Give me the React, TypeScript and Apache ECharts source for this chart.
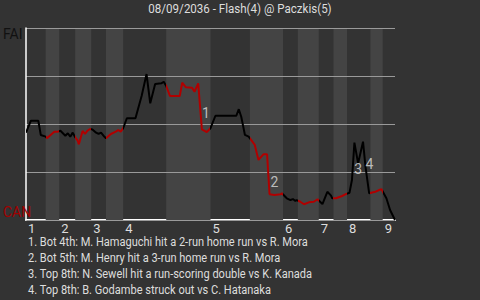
import React, { useEffect, useRef } from "react";
import * as echarts from "echarts";

// Win probability for FAI (100 = FAI wins, 0 = CAN wins), sampled by pitch count.
const pitch = [
  0, 4, 10, 12, 16,
  17, 23, 26,
  28, 32, 34, 36, 38, 40,
  42, 43, 46, 48, 50, 52,
  54, 57, 59, 61, 63, 65,
  66, 69, 73, 75, 77, 79,
  82, 89, 94, 98, 101, 105, 110, 112, 114,
  117, 125, 127, 130, 135, 137, 140, 143, 147, 150,
  154, 171, 173, 175, 178, 181,
  183, 186, 189, 193, 196, 198, 202, 207, 208,
  212, 215, 217, 219, 220,
  223, 226, 230, 234, 237,
  241, 245, 248, 249,
  252, 257, 260,
  263, 265, 267, 270, 274, 276, 279,
  284, 287, 289,
  293, 296, 300,
];
const winProb = [
  45.5, 51.7, 51.7, 44.3, 43.4,
  42.6, 46.0, 46.0,
  46.5, 43.9, 45.2, 43.4, 45.5, 43.1,
  41.3, 39.4, 46.4, 44.8, 46.5, 47.4,
  47.2, 45.5, 44.8, 45.5, 43.9, 42.6,
  43.1, 44.8, 46.0, 46.9, 46.0, 47.8,
  53.0, 53.0, 64.6, 76.0, 60.8, 70.8, 71.2, 72.0, 69.8,
  64.6, 64.6, 71.5, 69.1, 68.9, 66.8, 71.2, 47.2, 45.8, 47.8,
  54.3, 54.3, 57.7, 53.8, 44.3, 43.4,
  41.7, 39.1, 31.3, 34.2, 34.2, 13.4, 13.0, 13.4, 13.9,
  11.3, 10.4, 10.9, 9.9, 10.4,
  9.5, 8.2, 9.2, 9.5, 10.8,
  8.3, 14.7, 12.7, 11.3,
  11.3, 12.5, 13.5,
  14.2, 20.8, 40.3, 29.5, 40.8, 27.8, 13.9,
  14.7, 15.6, 16.0,
  11.3, 5.2, 0,
];

// Pitch count at which each half-inning begins (top 1, bottom 1, top 2, ...).
const halfStarts = [0, 16, 27, 40, 53, 65, 79, 114, 150, 182, 209, 221, 238, 250, 261, 280, 290];
const gameEnd = 300;
const inningLabels = ["1", "2", "3", "4", "5", "6", "7", "8", "9"];

const awayTeam = "FAI";
const homeTeam = "CAN";
const title = "08/09/2036 - Flash(4) @ Paczkis(5)";

// Key plays: pitch at which each happened, and its description.
const eventPitch = [143, 198, 270, 276];
const eventNotes = [
  "Bot 4th: M. Hamaguchi hit a 2-run home run vs R. Mora",
  "Bot 5th: M. Henry hit a 3-run home run vs R. Mora",
  "Top 8th: N. Sewell hit a run-scoring double vs K. Kanada",
  "Top 8th: B. Godambe struck out vs C. Hatanaka",
];

const FONT = "Roboto, 'Noto Sans', sans-serif";
const AWAY_COLOR = "#000000";
const HOME_COLOR = "#b00000";
const TEXT = "#dddddd";

export default function App() {
  const ref = useRef<HTMLDivElement>(null);

  useEffect(() => {
    document.body.style.margin = "0";
    const chart = echarts.init(ref.current!, null, { renderer: "svg" });

    const lineData = pitch.map((p, i) => [p, winProb[i]]);
    const halfEnds = halfStarts.slice(1).concat(gameEnd);
    const inningStarts = halfStarts.filter((_, i) => i % 2 === 0);

    const pieces = halfStarts.map((s, i) => ({
      gte: s,
      lt: i === halfStarts.length - 1 ? gameEnd + 1 : halfEnds[i],
      color: i % 2 === 0 ? AWAY_COLOR : HOME_COLOR,
    }));

    const bands = halfStarts
      .map((s, i) => ({ s, e: halfEnds[i], bottom: i % 2 === 1 }))
      .filter((h) => h.bottom)
      .map((h) => [{ xAxis: h.s }, { xAxis: h.e }]);

    const labelOffsets = [
      [4, -16],
      [5, -12],
      [0, 6],
      [4, -3],
    ];
    const eventData = eventPitch.map((p, i) => {
      const idx = pitch.indexOf(p);
      return {
        value: [p, winProb[idx]],
        label: { offset: labelOffsets[i] },
      };
    });

    // Condensed-looking captions: a narrow horizontal scale on the text.
    const titleText = {
      type: "text",
      x: 240,
      y: 8.5,
      scaleX: 0.89,
      style: {
        text: title,
        fill: TEXT,
        fontSize: 13,
        fontFamily: FONT,
        align: "center",
        verticalAlign: "middle",
      },
    };
    const noteTexts = eventNotes.map((t, i) => ({
      type: "text",
      x: 28,
      y: 242 + i * 16,
      scaleX: 0.85,
      style: {
        text: `${i + 1}. ${t}`,
        fill: TEXT,
        fontSize: 13,
        fontFamily: FONT,
        verticalAlign: "middle",
        align: "left",
      },
    }));

    chart.setOption({
      animation: false,
      backgroundColor: "#333333",
      textStyle: { fontFamily: FONT },
      grid: { left: 26, right: 85, top: 28, bottom: 80 },
      xAxis: {
        type: "value",
        min: 0,
        max: gameEnd,
        axisLine: { show: true, onZero: false, lineStyle: { color: "#ffffff", width: 2 } },
        axisTick: { show: false },
        splitLine: { show: false },
        axisLabel: {
          customValues: inningStarts,
          formatter: (v: number) => {
            const k = inningStarts.indexOf(v);
            return k >= 0 ? inningLabels[k] : "";
          },
          color: TEXT,
          fontSize: 13,
          lineHeight: 11,
          fontFamily: FONT,
          align: "left",
          padding: [0, 0, 0, 2],
          margin: 3,
        },
      },
      yAxis: {
        type: "value",
        min: 0,
        max: 100,
        interval: 25,
        z: 3,
        axisLine: { show: true, lineStyle: { color: "#ffffff", width: 1.5 } },
        axisTick: { show: false },
        splitLine: { show: true, lineStyle: { color: "#9a9a9a", width: 1 } },
        axisLabel: {
          margin: 23,
          align: "left",
          color: (v: any) => (Number(v) === 100 ? "#111111" : "#a00000"),
          formatter: (v: number) => (v === 100 ? `{a|${awayTeam}}` : v === 0 ? `{b|${homeTeam}}` : ""),
          rich: {
            a: { fontSize: 14, fontFamily: FONT, padding: [12, 0, 0, 0] },
            b: { fontSize: 14, fontFamily: FONT, padding: [0, 0, 16, 0] },
          },
        },
      },
      visualMap: {
        show: false,
        type: "piecewise",
        dimension: 0,
        seriesIndex: 1,
        pieces,
      },
      series: [
        {
          type: "line",
          z: 1,
          data: [[0, 0]],
          symbol: "none",
          lineStyle: { opacity: 0 },
          silent: true,
          markArea: {
            silent: true,
            itemStyle: { color: "#444444" },
            data: bands,
          },
        },
        {
          type: "line",
          z: 5,
          data: lineData,
          symbol: "none",
          lineStyle: { width: 2 },
        },
        {
          type: "scatter",
          z: 6,
          data: eventData,
          symbolSize: 0,
          label: {
            show: true,
            position: "inside",
            formatter: (p: any) => String(p.dataIndex + 1),
            color: TEXT,
            fontSize: 14,
            fontFamily: FONT,
          },
        },
      ],
      graphic: [titleText, ...noteTexts],
    });

    return () => chart.dispose();
  }, []);

  return (
    <div
      ref={ref}
      style={{ position: "fixed", left: 0, top: 0, width: 480, height: 300 }}
    />
  );
}
